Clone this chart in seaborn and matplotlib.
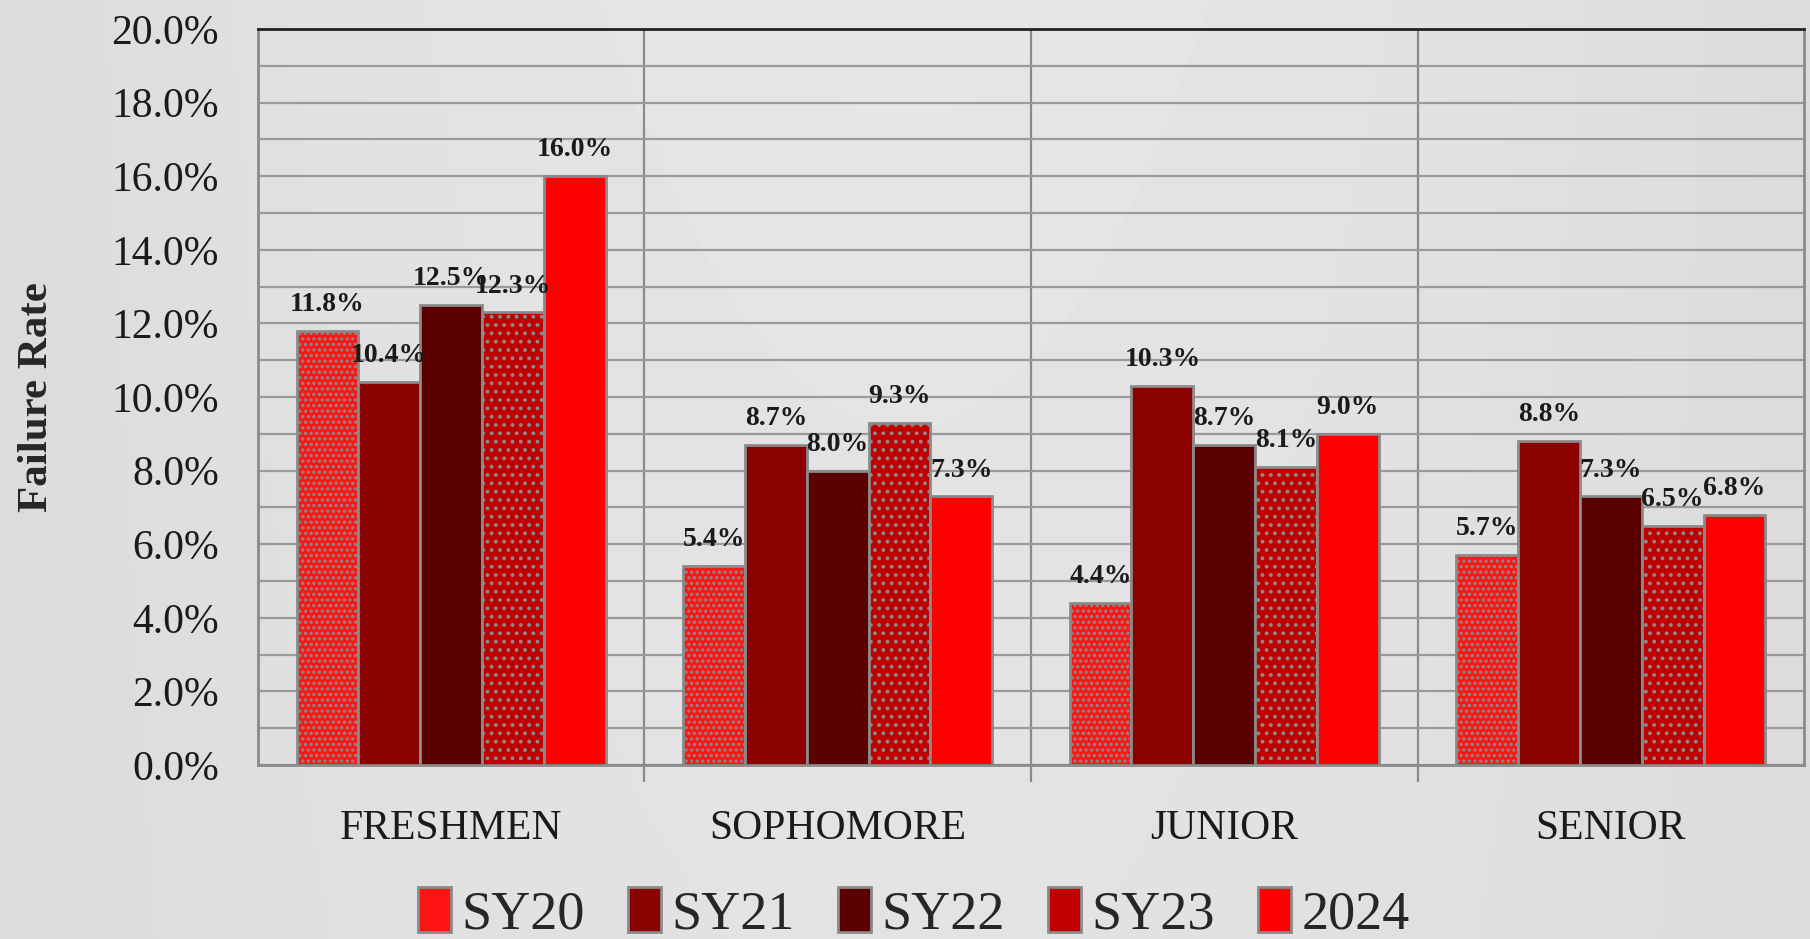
import numpy as np
import pandas as pd
import seaborn as sns
import matplotlib.pyplot as plt
from matplotlib.ticker import MultipleLocator, FuncFormatter

grades = ['FRESHMEN', 'SOPHOMORE', 'JUNIOR', 'SENIOR']
years = ['SY20', 'SY21', 'SY22', 'SY23', '2024']
sy20 = [11.8, 5.4, 4.4, 5.7]
sy21 = [10.4, 8.7, 10.3, 8.8]
sy22 = [12.5, 8.0, 8.7, 7.3]
sy23 = [12.3, 9.3, 8.1, 6.5]
y2024 = [16.0, 7.3, 9.0, 6.8]

colors = ['#ff1414', '#8b0000', '#5a0000', '#c00000', '#ff0000']
hatches = ['...', '', '', '..', '']

rows = []
for yr, vals in zip(years, [sy20, sy21, sy22, sy23, y2024]):
    for g, v in zip(grades, vals):
        rows.append({'grade': g, 'year': yr, 'rate': v})
df = pd.DataFrame(rows)

sns.set_style('white')
plt.rcParams['font.family'] = ['Liberation Serif', 'DejaVu Serif']
plt.rcParams['hatch.linewidth'] = 1.6

fig = plt.figure(figsize=(18.1, 9.39), dpi=100)
# soft gray gradient background
bg = fig.add_axes([0, 0, 1, 1], zorder=-10)
grad = np.linspace(0, 1, 256)
gx, gy = np.meshgrid(grad, grad)
bg.imshow(0.86 + 0.04 * np.sin(gx * np.pi) * (1 - 0.3 * gy), cmap='gray', vmin=0, vmax=1,
          aspect='auto', extent=[0, 1, 0, 1])
bg.axis('off')

ax = fig.add_axes([0.1425, 0.1853, 0.8542, 0.7837])
ax.set_facecolor((0, 0, 0, 0))
sns.barplot(data=df, x='grade', y='rate', hue='year', order=grades, hue_order=years,
            palette=colors, saturation=1, width=0.8, gap=0, ax=ax,
            edgecolor='#8a8a8a', linewidth=2, zorder=3)

for cont, h in zip(ax.containers, hatches):
    for bar in cont:
        bar.set_hatch(h)
    labels = [f'{v:.1f}%' for v in cont.datavalues]
    ax.bar_label(cont, labels=labels, padding=10, fontsize=20, fontweight='bold', color='#1a1a1a')

ax.set_ylim(0, 20)
ax.set_xlim(-0.5, 3.5)
ax.yaxis.set_major_locator(MultipleLocator(2))
ax.yaxis.set_minor_locator(MultipleLocator(1))
ax.yaxis.set_major_formatter(FuncFormatter(lambda v, p: f'{v:.1f}%'))
ax.set_xticks([0.5, 1.5, 2.5], minor=True)
ax.grid(True, which='both', axis='y', color='#9a9a9a', lw=1.6, zorder=0)
ax.grid(True, which='minor', axis='x', color='#8a8a8a', lw=1.6, zorder=0)
ax.tick_params(axis='y', which='major', length=12, width=1.6, color='#8a8a8a', labelsize=30, pad=16)
ax.tick_params(axis='y', which='minor', length=0)
ax.tick_params(axis='x', which='major', length=0, labelsize=30, pad=32)
ax.tick_params(axis='x', which='minor', length=12, width=1.6, color='#8a8a8a', bottom=True)
ax.tick_params(colors='#1a1a1a', which='major')

for s in ['left', 'bottom', 'right']:
    ax.spines[s].set_color('#8a8a8a')
    ax.spines[s].set_linewidth(2)
ax.spines['top'].set_color('#222222')
ax.spines['top'].set_linewidth(2)

ax.set_xlabel('')
ax.set_ylabel('Failure Rate', fontsize=31, fontweight='bold', labelpad=40)

handles, _ = ax.get_legend_handles_labels()
ax.legend_.remove()
fig.legend(handles, years, loc='center', bbox_to_anchor=(0.505, 0.027), ncol=5,
           frameon=False, fontsize=39, handlelength=0.6, handleheight=0.9,
           handletextpad=0.2, columnspacing=0.8, borderpad=0)

fig.savefig('out.png', dpi=100)
